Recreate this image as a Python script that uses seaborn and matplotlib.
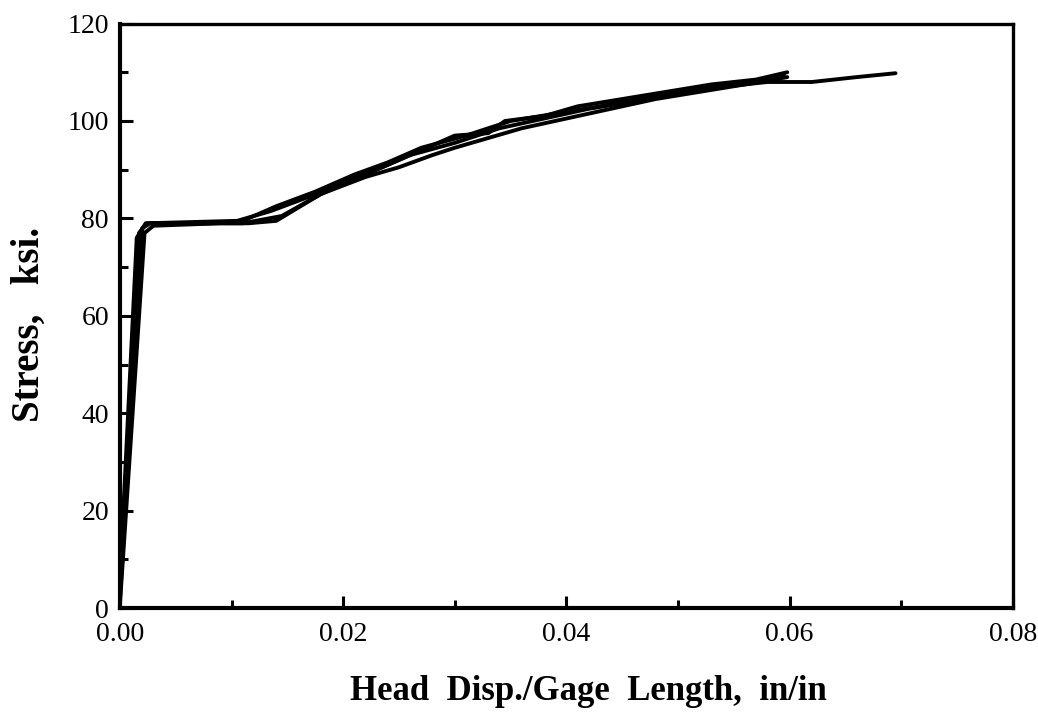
import pandas as pd
import numpy as np
import matplotlib
matplotlib.use("Agg")
import matplotlib.pyplot as plt
import seaborn as sns
from matplotlib.ticker import MultipleLocator, FormatStrFormatter

sns.set_style("ticks")
plt.rcParams['font.family'] = ['Liberation Serif', 'DejaVu Serif']
plt.rcParams['text.color'] = 'black'
plt.rcParams['axes.labelcolor'] = 'black'
plt.rcParams['axes.edgecolor'] = 'black'
plt.rcParams['xtick.color'] = 'black'
plt.rcParams['ytick.color'] = 'black'

# stress-strain curves (strain in/in, stress ksi)
strain_a = [0, 0.0017, 0.0024, 0.0110, 0.0145, 0.018, 0.022, 0.026, 0.030, 0.034,
            0.038, 0.042, 0.046, 0.050, 0.054, 0.058, 0.062, 0.066, 0.0695]
stress_a = [4, 77, 79, 79, 80.5, 85, 89, 93, 95.5, 98.5,
            100.5, 102.5, 104, 105.5, 107, 108, 108, 109, 109.8]

strain_b = [0, 0.0020, 0.0027, 0.0080, 0.0110, 0.0140, 0.0175, 0.021, 0.024, 0.027,
            0.031, 0.035, 0.039, 0.043, 0.047, 0.051, 0.055, 0.0595]
stress_b = [2, 78, 79, 79, 79.5, 82.5, 85.5, 89, 91.5, 94.5,
            97, 100, 101.5, 103, 105, 106.5, 107.5, 109.5]

strain_c = [0, 0.0022, 0.0030, 0.0090, 0.0115, 0.0140, 0.018, 0.022, 0.025, 0.028,
            0.030, 0.033, 0.036, 0.040, 0.044, 0.048, 0.052, 0.056, 0.0598]
stress_c = [1, 77, 78.5, 79, 79, 79.5, 85, 88.5, 90.5, 93,
            94.5, 96.5, 98.5, 100.5, 102.5, 104.5, 106, 107.5, 109]

strain_d = [0, 0.0015, 0.0023, 0.0105, 0.0135, 0.0170, 0.020, 0.0235, 0.027, 0.030,
            0.033, 0.0345, 0.038, 0.041, 0.045, 0.049, 0.053, 0.057, 0.0598]
stress_d = [6, 76, 79, 79.5, 81.5, 84.5, 87.5, 90.5, 94, 97,
            97.5, 100, 101, 103, 104.5, 106, 107.5, 108.5, 110]

curves = {'A': (strain_a, stress_a), 'B': (strain_b, stress_b),
          'C': (strain_c, stress_c), 'D': (strain_d, stress_d)}
df = pd.concat([pd.DataFrame({'strain': x, 'stress': y, 'specimen': k})
                for k, (x, y) in curves.items()], ignore_index=True)

fig = plt.figure(figsize=(10.38, 7.13), dpi=100)
ax = fig.add_axes([0.1156, 0.147, 0.86, 0.82])

sns.lineplot(data=df, x='strain', y='stress', units='specimen', estimator=None,
             sort=False, color='black', lw=2.8, ax=ax, legend=False)

ax.set_xlim(0, 0.08)
ax.set_ylim(0, 120)
ax.xaxis.set_major_locator(MultipleLocator(0.02))
ax.xaxis.set_minor_locator(MultipleLocator(0.01))
ax.yaxis.set_major_locator(MultipleLocator(20))
ax.yaxis.set_minor_locator(MultipleLocator(10))
ax.xaxis.set_major_formatter(FormatStrFormatter('%.2f'))
ax.tick_params(which='major', direction='in', length=9, width=2.2, labelsize=20, pad=8)
ax.tick_params(axis='x', which='major', pad=10)
ax.tick_params(which='minor', direction='in', length=6, width=2.2)
for s in ax.spines.values():
    s.set_linewidth(2.4)
ax.spines['left'].set_linewidth(3)
ax.spines['bottom'].set_linewidth(3)

ax.set_xlabel('Head  Disp./Gage  Length,  in/in', fontsize=25, fontweight='bold', labelpad=20)
ax.xaxis.label.set_x(0.525)
ax.set_ylabel('Stress,   ksi.', fontsize=28, fontweight='bold', labelpad=14)
ax.yaxis.label.set_y(0.485)

fig.savefig('out.png', dpi=100)
